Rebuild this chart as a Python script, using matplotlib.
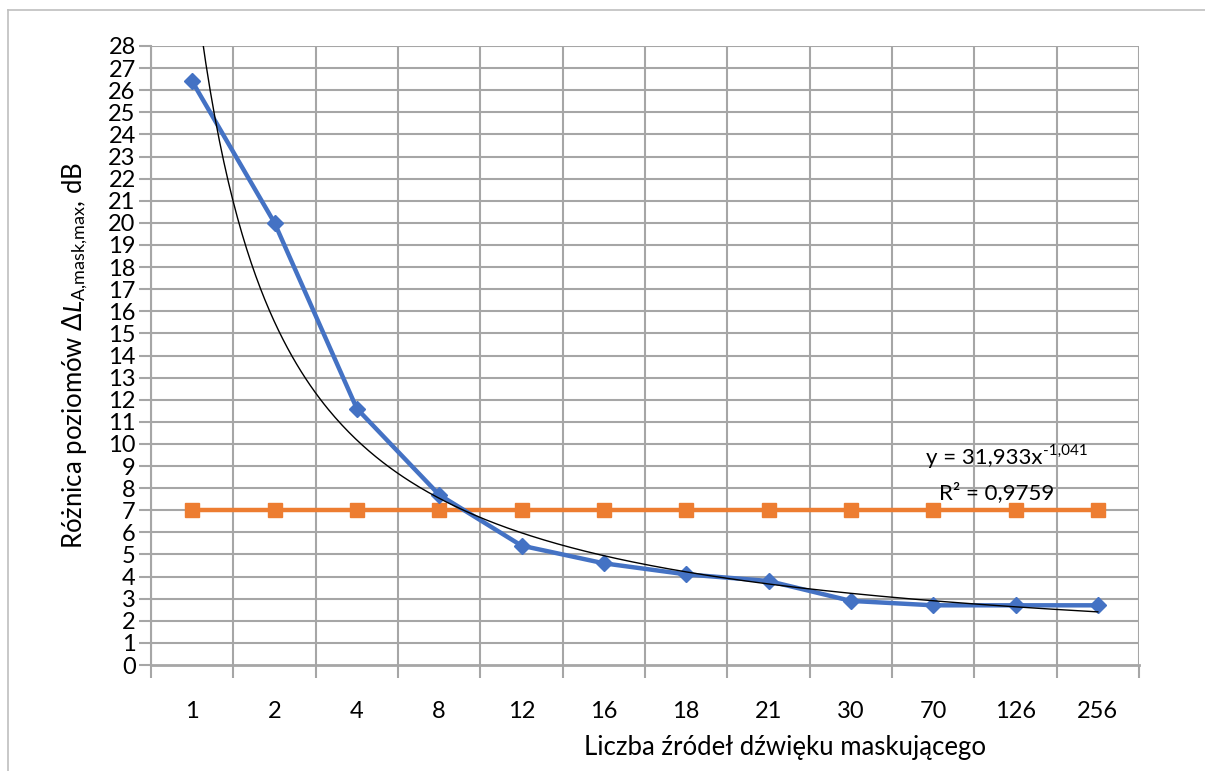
import numpy as np
import matplotlib
matplotlib.use("Agg")
import matplotlib.pyplot as plt
from matplotlib.lines import Line2D

plt.rcParams['font.family'] = ['Lato', 'DejaVu Sans']
plt.rcParams['mathtext.fontset'] = 'custom'
plt.rcParams['mathtext.rm'] = 'Lato'
plt.rcParams['mathtext.it'] = 'Lato:italic'

# data
categories = ["1", "2", "4", "8", "12", "16", "18", "21", "30", "70", "126", "256"]
delta_L = [26.4, 20.0, 11.6, 7.7, 5.4, 4.6, 4.1, 3.8, 2.9, 2.7, 2.7, 2.7]
threshold = [7, 7, 7, 7, 7, 7, 7, 7, 7, 7, 7, 7]
# power trendline shown on the chart (x = category index)
fit_a = 31.933
fit_b = -1.041
fit_r2 = "0,9759"

blue = "#4472C4"
orange = "#ED7D31"
grid_c = "#A6A6A6"

fig = plt.figure(figsize=(12.05, 7.71), dpi=100)
ax = fig.add_axes([151/1205, 1 - 665/771, (1139-151)/1205, (665-46)/771])

x = np.arange(1, len(categories) + 1)
ax.plot(x, delta_L, color=blue, lw=3.2, marker="D", ms=8, zorder=4)
ax.plot(x, threshold, color=orange, lw=3.2, marker="s", ms=10, zorder=3)

xf = np.linspace(1, len(categories), 400)
ax.plot(xf, fit_a * xf ** fit_b, color="black", lw=1.0, zorder=5)

ax.set_xlim(0.5, len(categories) + 0.5)
ax.set_ylim(0, 28)
ax.set_yticks(range(0, 29))
ax.set_xticks(x)
ax.set_xticklabels(categories)
ax.set_xticks(np.arange(0.5, len(categories) + 1), minor=True)

ax.grid(False)
for xv in np.arange(0.5, len(categories) + 1):
    ax.axvline(xv, color=grid_c, lw=1.5, zorder=1)
for yv in range(1, 29):
    ax.axhline(yv, color=grid_c, lw=1.5, zorder=1)

for s in ["top", "right"]:
    ax.spines[s].set_visible(False)
ax.spines["left"].set_color(grid_c)
ax.spines["bottom"].set_color(grid_c)
ax.spines["left"].set_linewidth(1.5)
ax.spines["bottom"].set_linewidth(2)

ax.tick_params(axis="y", which="major", length=9, width=1.5, color=grid_c,
               labelsize=17, pad=2)
ax.tick_params(axis="x", which="major", length=0, labelsize=17, pad=26)
ax.tick_params(axis="x", which="minor", length=9, width=1.5, color=grid_c)

fig.text(75/1205, 1 - 355/771,
         r"Różnica poziomów $\mathit{\Delta L}_{\mathrm{A{,}mask{,}max}}$, dB",
         rotation=90, ha="center", va="center", fontsize=18.5)
fig.text(785/1205, 1 - 747/771, "Liczba źródeł dźwięku maskującego",
         ha="center", va="center", fontsize=18.5)

# trendline equation, superscript drawn as a second text
fig.text(1042/1205, 1 - 458/771, "y = 31,933x",
         ha="right", va="center", fontsize=16)
fig.text(1043/1205, 1 - 451/771, "-1,041",
         ha="left", va="center", fontsize=11)
fig.text(997/1205, 1 - 493/771, "R² = " + fit_r2,
         ha="center", va="center", fontsize=16)

# outer chart frame
fig.add_artist(Line2D([8/1205, 8/1205], [0, 1 - 10/771], color="#BFBFBF", lw=1.2,
                      transform=fig.transFigure))
fig.add_artist(Line2D([8/1205, 1], [1 - 10/771, 1 - 10/771], color="#BFBFBF", lw=1.2,
                      transform=fig.transFigure))

fig.savefig("out.png", dpi=100)
